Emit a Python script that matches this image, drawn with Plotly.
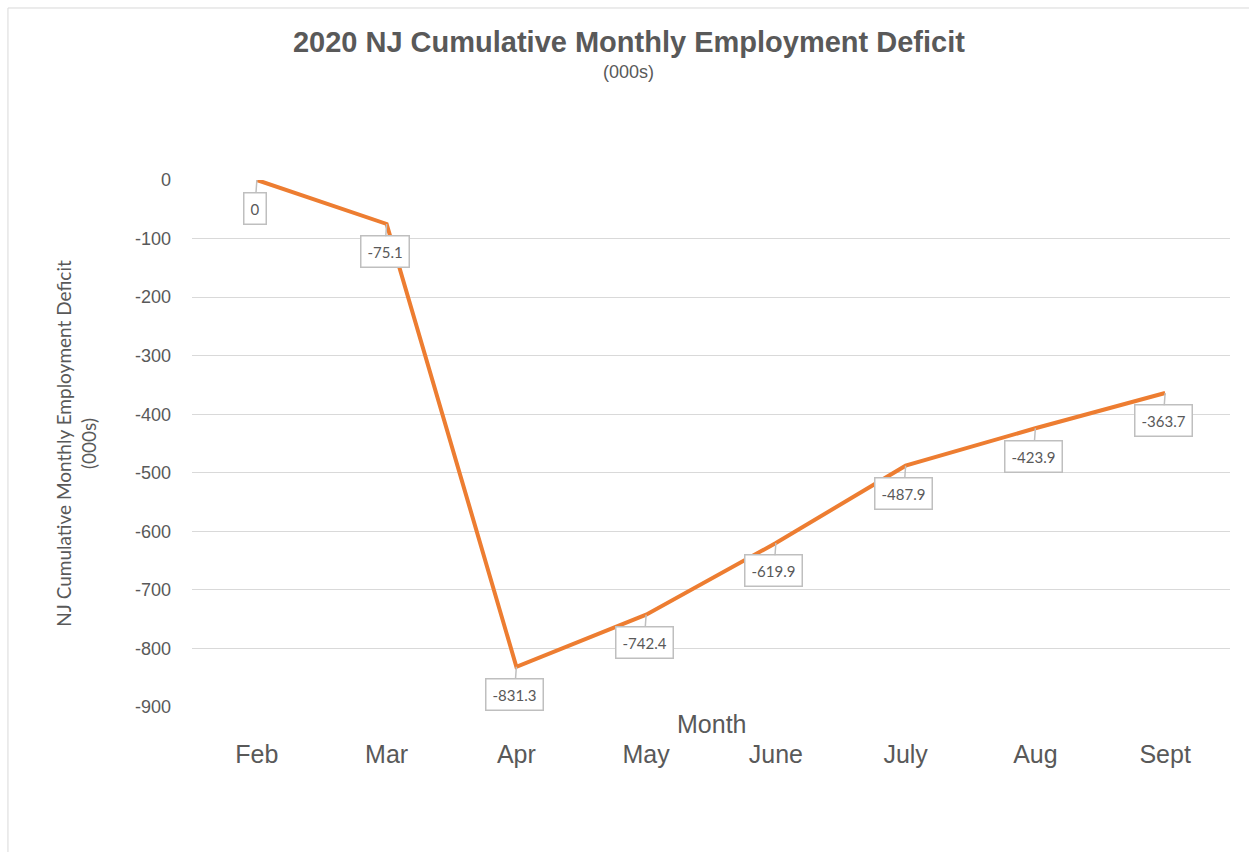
import plotly.graph_objects as go

months = ["Feb", "Mar", "Apr", "May", "June", "July", "Aug", "Sept"]
deficit = [0, -75.1, -831.3, -742.4, -619.9, -487.9, -423.9, -363.7]
y_ticks = [0, -100, -200, -300, -400, -500, -600, -700, -800, -900]
y_tick_text = [str(v) for v in y_ticks]

TXT = "#595959"
ARIAL = "Liberation Sans, Arial, sans-serif"
CAL = "Lato, Open Sans, sans-serif"

fig = go.Figure()
fig.add_trace(go.Scatter(
    x=months, y=deficit, mode="lines",
    line=dict(color="#ED7D31", width=4),
    hoverinfo="skip", showlegend=False,
))

for m, v in zip(months, deficit):
    fig.add_annotation(
        x=m, y=v, xref="x", yref="y",
        text=f"{v:g}", showarrow=True, ax=-2, ay=28,
        arrowhead=0, arrowwidth=1.5, arrowcolor="#BFBFBF",
        bgcolor="white", bordercolor="#BFBFBF", borderwidth=1.5, borderpad=6,
        font=dict(family=CAL, size=15, color=TXT),
    )

fig.add_annotation(
    x=0.5, y=-0.032, xref="paper", yref="paper", text="Month", showarrow=False,
    xanchor="center", yanchor="middle",
    font=dict(family=ARIAL, size=25, color=TXT),
)
fig.add_annotation(
    x=0.421, y=1.205, xref="paper", yref="paper", text="(000s)", showarrow=False,
    xanchor="center", yanchor="middle",
    font=dict(family=ARIAL, size=18, color=TXT),
)

fig.add_shape(type="rect", xref="paper", yref="paper",
              x0=-0.1773, x1=1.05, y0=-0.35, y1=1.3264,
              line=dict(color="#D9D9D9", width=1), fillcolor="rgba(0,0,0,0)", layer="below")

fig.update_layout(
    width=1249, height=852,
    margin=dict(l=192, r=19, t=180, b=145),
    paper_bgcolor="white", plot_bgcolor="white",
    title=dict(text="<b>2020 NJ Cumulative Monthly Employment Deficit</b>",
               x=0.5035, xanchor="center", y=0.951, yanchor="middle",
               font=dict(family=ARIAL, size=29, color=TXT)),
    xaxis=dict(type="category", range=[-0.5, 7.5], showgrid=False, showline=False,
               zeroline=False, ticks="", ticklabelstandoff=30,
               tickfont=dict(family=ARIAL, size=25, color=TXT)),
    yaxis=dict(range=[-900, 0], tickvals=y_ticks, ticktext=y_tick_text,
               showgrid=True, gridcolor="#D9D9D9",
               gridwidth=1, zeroline=False, showline=False, ticks="", ticklabelstandoff=20,
               tickfont=dict(family=ARIAL, size=18, color=TXT),
               title=dict(text="NJ Cumulative Monthly Employment Deficit<br>(000s)", standoff=33,
                          font=dict(family=CAL, size=19, color=TXT))),
)

fig.write_html("out.html")
